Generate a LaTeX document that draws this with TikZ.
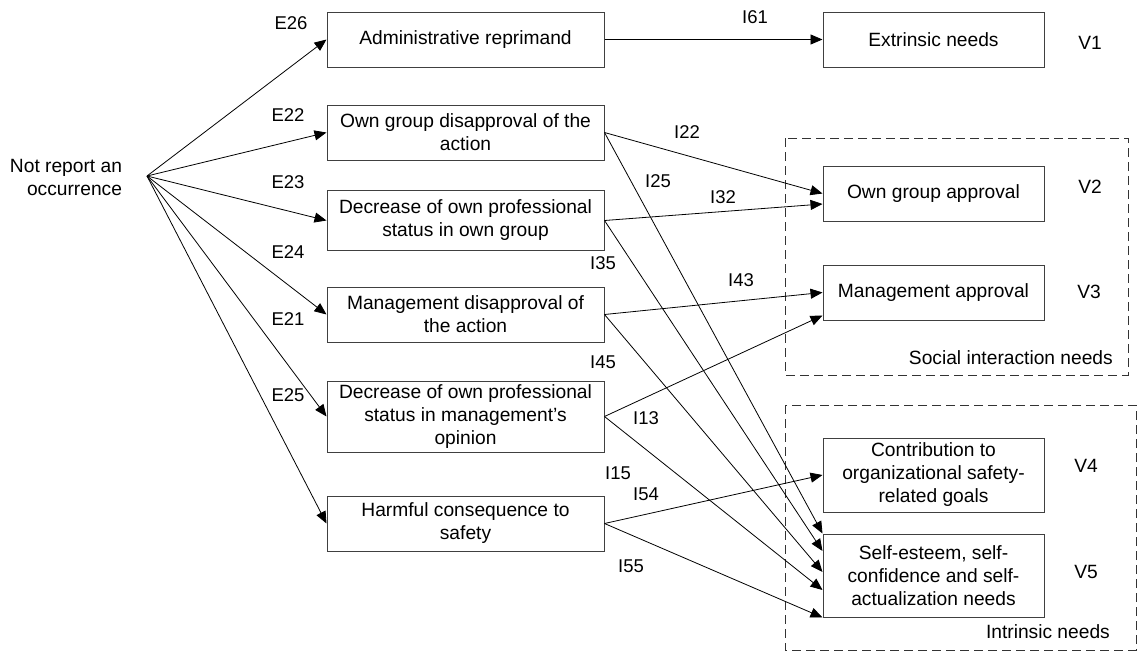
\documentclass[tikz,border=0pt]{standalone}
\usepackage{fontspec}
\setmainfont{Liberation Sans}
\usetikzlibrary{arrows.meta}
\begin{document}
\begin{tikzpicture}[x=1pt,y=-1pt,
  txt/.style={font=\fontsize{19.2}{23}\selectfont},
  box/.style={txt, draw=black!75, line width=1pt, align=center, minimum width=277pt, inner sep=0pt},
  rbox/.style={box, minimum width=221pt},
  lbl/.style={font=\fontsize{18.5}{22}\selectfont, inner sep=0pt},
  arr/.style={-{Triangle[length=12pt,width=10pt]}, line width=0.8pt},
  grp/.style={draw=black!80, line width=1pt, dash pattern=on 9pt off 5pt}]
\useasboundingbox (0,0) rectangle (1138,653);

% group frames
\draw[grp] (785,138) rectangle (1128,375);
\draw[grp] (785,405) rectangle (1136,650);
\node[txt, anchor=east, inner sep=0pt] (gSoc) at (1113,358) {Social interaction needs};
\node[txt, anchor=east, inner sep=0pt] (gInt) at (1110,632) {Intrinsic needs};

% source
\node[txt, align=right, inner sep=0pt] (src) at (66,177) {Not report an\\occurrence};
\coordinate (o) at (147,176);

% middle column
\node[box, minimum height=55pt] (A) at (465.5,39.5) {Administrative reprimand};
\node[box, minimum height=55pt] (B) at (465.5,132.5) {Own group disapproval of the\\action};
\node[box, minimum height=60pt] (C) at (465.5,220.5) {Decrease of own professional\\status in own group};
\node[box, minimum height=55pt] (D) at (465.5,314.5) {Management disapproval of\\the action};
\node[box, minimum height=71pt] (E) at (465.5,416.5) {Decrease of own professional\\status in management’s\\opinion};
\node[box, minimum height=55pt] (F) at (465.5,523.5) {Harmful consequence to\\safety};

% right column
\node[rbox, minimum height=55pt] (V1) at (933.5,39.5) {Extrinsic needs};
\node[rbox, minimum height=55pt] (V2) at (933.5,193.5) {Own group approval};
\node[rbox, minimum height=55pt] (V3) at (933.5,292.5) {Management approval};
\node[rbox, minimum height=74pt] (V4) at (933.5,475) {Contribution to\\organizational safety-\\related goals};
\node[rbox, minimum height=83pt] (V5) at (933.5,575.5) {Self-esteem, self-\\confidence and self-\\actualization needs};

% V labels
\node[txt, inner sep=0pt] (n1) at (1090,43) {V1};
\node[txt, inner sep=0pt] (n2) at (1090,187) {V2};
\node[txt, inner sep=0pt] (n3) at (1089,292) {V3};
\node[txt, inner sep=0pt] (n4) at (1086,466) {V4};
\node[txt, inner sep=0pt] (n5) at (1086,572) {V5};

% source arrows
\draw[arr] (o) -- (A.west);
\draw[arr] (o) -- (B.west);
\draw[arr] (o) -- (C.west);
\draw[arr] (o) -- (D.west);
\draw[arr] (o) -- (E.west);
\draw[arr] (o) -- (F.west);

% E labels
\node[lbl] (lE26) at (291,23) {E26};
\node[lbl] (lE22) at (288,115) {E22};
\node[lbl] (lE23) at (288,182) {E23};
\node[lbl] (lE24) at (288,252) {E24};
\node[lbl] (lE21) at (288,319) {E21};
\node[lbl] (lE25) at (288,395) {E25};

% right arrows
\draw[arr] (A.east) -- (V1.west);
\draw[arr] (B.east) -- (V2.west);
\draw[arr] (C.east) -- ([yshift=-10.5pt]V2.west);
\draw[arr] (D.east) -- (V3.west);
\draw[arr] (E.east) -- ([yshift=-23pt]V3.west);
\draw[arr] (F.east) -- (V4.west);
\draw[arr] (B.east) -- (V5.north west);
\draw[arr] (C.east) -- ([yshift=24.5pt]V5.west);
\draw[arr] (D.east) -- ([yshift=3.5pt]V5.west);
\draw[arr] (E.east) -- ([yshift=-14.5pt]V5.west);
\draw[arr] (F.east) -- (V5.south west);

% I labels
\node[lbl] (lI61) at (755,17) {I61};
\node[lbl] (lI22) at (687,132) {I22};
\node[lbl] (lI25) at (658,181) {I25};
\node[lbl] (lI32) at (723,197) {I32};
\node[lbl] (lI35) at (603,263) {I35};
\node[lbl] (lI43) at (741,280) {I43};
\node[lbl] (lI45) at (603,362) {I45};
\node[lbl] (lI13) at (646,418) {I13};
\node[lbl] (lI15) at (618,473) {I15};
\node[lbl] (lI54) at (646,494) {I54};
\node[lbl] (lI55) at (631,566) {I55};
\end{tikzpicture}
\end{document}
